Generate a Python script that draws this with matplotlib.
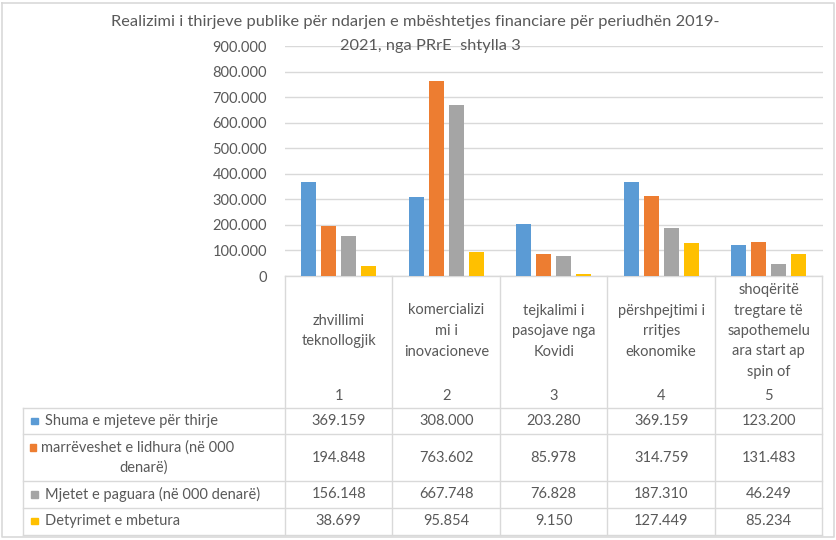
import numpy as np
import matplotlib
matplotlib.use("Agg")
import matplotlib.pyplot as plt

plt.rcParams['font.family'] = ['Lato', 'DejaVu Sans']

# ---------------- data ----------------
title_lines = ["Realizimi i thirjeve publike për ndarjen e mbështetjes financiare për periudhën 2019-",
               "2021, nga PRrE  shtylla 3"]
cat_labels = [["zhvillimi", "teknollogjik"],
              ["komercializi", "mi i", "inovacioneve"],
              ["tejkalimi i", "pasojave nga", "Kovidi"],
              ["përshpejtimi i", "rritjes", "ekonomike"],
              ["shoqëritë", "tregtare të", "sapothemelu", "ara start ap", "spin of"]]
cat_numbers = ["1", "2", "3", "4", "5"]
series_names = ["Shuma e mjeteve për thirje",
                "marrëveshet e lidhura (në 000 denarë)",
                "Mjetet e paguara (në 000 denarë)",
                "Detyrimet e mbetura"]
shuma = [369159, 308000, 203280, 369159, 123200]
marreveshet = [194848, 763602, 85978, 314759, 131483]
paguara = [156148, 667748, 76828, 187310, 46249]
detyrimet = [38699, 95854, 9150, 127449, 85234]
series = [shuma, marreveshet, paguara, detyrimet]
colors = ["#5B9BD5", "#ED7D31", "#A5A5A5", "#FFC000"]
yticks = np.arange(0, 900001, 100000)

def fmt(v):
    return f"{int(v):,}".replace(",", ".")

W, H = 837, 540
fig = plt.figure(figsize=(W / 100, H / 100), dpi=100)

# overlay in pixel coordinates
ov = fig.add_axes([0, 0, 1, 1], zorder=0)
ov.set_xlim(0, W)
ov.set_ylim(H, 0)
ov.axis("off")

# plot area
x0, x1 = 285, 822.5
y_top, y_zero = 46, 276
ax = fig.add_axes([x0 / W, 1 - y_zero / H, (x1 - x0) / W, (y_zero - y_top) / H], zorder=1)
ax.patch.set_alpha(0)
n = len(cat_numbers)
bw = 0.144
step = 0.186
x = np.arange(n)
for i, (vals, c) in enumerate(zip(series, colors)):
    ax.bar(x + (i - 1.5) * step, vals, width=bw, color=c, zorder=2)
ax.set_xlim(-0.5, n - 0.5)
ax.set_ylim(0, 900000)
ax.set_yticks(yticks)
ax.set_yticklabels([fmt(v) for v in yticks], color="#595959", fontsize=10.5)
ax.tick_params(axis="y", length=0, pad=13)
ax.set_xticks([])
ax.grid(axis="y", color="#D9D9D9", linewidth=1, zorder=0)
for s in ax.spines.values():
    s.set_visible(False)

# title
txtc = "#595959"
ov.text(415, 22, title_lines[0], ha="center", va="center", fontsize=11.8, color=txtc, zorder=5)
fig.text(430 / W, 1 - 46 / H, title_lines[1], ha="center", va="center", fontsize=11.8, color=txtc, zorder=5)

# table
lc = "#D9D9D9"
col_edges = [x0 + k * (x1 - x0) / n for k in range(n + 1)]
row_edges = [276, 408, 434, 481, 508, 535]
leg_left = 22.7
ov.plot([x0, x1], [276, 276], color=lc, lw=1)
for yy in row_edges[1:]:
    ov.plot([leg_left, x1], [yy, yy], color=lc, lw=1)
for xx in col_edges:
    ov.plot([xx, xx], [276, 535], color=lc, lw=1)
ov.plot([leg_left, leg_left], [408, 535], color=lc, lw=1)

fs = 10.5
for k in range(n):
    cx = (col_edges[k] + col_edges[k + 1]) / 2
    lines = cat_labels[k]
    m = len(lines)
    for j, ln in enumerate(lines):
        yy = 331 + (j - (m - 1) / 2) * 20.5
        ov.text(cx, yy, ln, ha="center", va="center", fontsize=fs, color=txtc)
    ov.text(cx, 396, cat_numbers[k], ha="center", va="center", fontsize=fs, color=txtc)

row_centers = [421, 457.5, 494.5, 521]
for r, (vals, c, name) in enumerate(zip(series, colors, series_names)):
    yc = row_centers[r]
    for k in range(n):
        cx = (col_edges[k] + col_edges[k + 1]) / 2
        ov.text(cx, yc, fmt(vals[k]), ha="center", va="center", fontsize=fs, color=txtc)
    if r == 1:
        ov.add_patch(plt.Rectangle((30, 444), 6.5, 6.5, color=c))
        ov.text(41, 448, "marrëveshet e lidhura (në 000", ha="left", va="center", fontsize=fs, color=txtc)
        ov.text(144, 468, "denarë)", ha="center", va="center", fontsize=fs, color=txtc)
    else:
        ov.add_patch(plt.Rectangle((31.5, yc - 3.5), 6.5, 6.5, color=c))
        ov.text(45, yc, name, ha="left", va="center", fontsize=fs, color=txtc)

# outer border
ov.plot([2.5, 834.5, 834.5, 2.5, 2.5], [2.5, 2.5, 537, 537, 2.5], color="#D9D9D9", lw=1.2)

fig.savefig("out.png", dpi=100)
